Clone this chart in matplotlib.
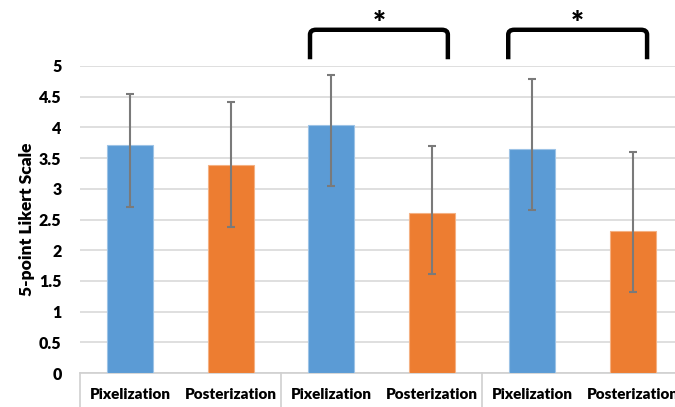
import matplotlib
matplotlib.use("Agg")
import matplotlib.pyplot as plt
from matplotlib.path import Path
from matplotlib.patches import PathPatch
from matplotlib.lines import Line2D

plt.rcParams['font.family'] = ['Lato', 'DejaVu Sans']

categories = ["Pixelization", "Posterization", "Pixelization", "Posterization", "Pixelization", "Posterization"]
values = [3.71, 3.38, 4.04, 2.60, 3.65, 2.32]
err_upper = [0.83, 1.04, 0.81, 1.10, 1.14, 1.28]
err_lower = [1.00, 1.00, 0.99, 0.99, 1.00, 1.00]
colors = ["#5B9BD5", "#ED7D31", "#5B9BD5", "#ED7D31", "#5B9BD5", "#ED7D31"]
edge_colors = ["#9DC3E6", "#F4B183", "#9DC3E6", "#F4B183", "#9DC3E6", "#F4B183"]
yticks = [0, 0.5, 1, 1.5, 2, 2.5, 3, 3.5, 4, 4.5, 5]
ytick_labels = ["0", "0.5", "1", "1.5", "2", "2.5", "3", "3.5", "4", "4.5", "5"]
brackets = [(1.79, 3.16), (3.76, 5.14)]
bracket_y = (5.11, 5.59)
star_y = 5.68
group_separators = [-0.5, 1.5, 3.5]

W = 'heavy'

fig = plt.figure(figsize=(6.75, 4.07), dpi=100)
ax = fig.add_axes([79.6 / 675, 34 / 407, 603.7 / 675, 307 / 407])

x = list(range(len(categories)))
ax.bar(x, values, width=0.457, color=colors, edgecolor=edge_colors, linewidth=0.8, zorder=3)
ax.errorbar(x, values, yerr=[err_lower, err_upper], fmt='none', ecolor='#7A7A7A',
            elinewidth=1.5, capsize=3.2, capthick=1.5, zorder=4)

ax.set_xlim(-0.5, len(categories) - 0.5)
ax.set_ylim(0, 5)
ax.set_yticks(yticks)
ax.set_yticklabels(ytick_labels, fontsize=11.5, fontweight=W)
ax.set_xticks(x)
ax.set_xticklabels(categories, fontsize=11, fontweight=W)
ax.tick_params(axis='y', length=0, pad=13)
ax.tick_params(axis='x', length=0, pad=11)
ax.yaxis.grid(True, color='#D9D9D9', linewidth=1.2, zorder=0)
ax.set_axisbelow(True)
for s in ['top', 'right', 'left']:
    ax.spines[s].set_visible(False)
ax.spines['bottom'].set_color('#D0D0D0')
ax.spines['bottom'].set_linewidth(1.2)

ax.set_ylabel("5-point Likert Scale", fontsize=12.5, fontweight=W, labelpad=3)

# group separators below axis
for gx in group_separators:
    ax.add_line(Line2D([gx, gx], [0, -0.6], color='#D0D0D0', linewidth=1.2, clip_on=False))

# significance brackets
yb, yt = bracket_y
rx, ry = 0.06, 0.08
for (x0, x1) in brackets:
    verts = [(x0, yb), (x0, yt - ry), (x0, yt), (x0 + rx, yt),
             (x1 - rx, yt), (x1, yt), (x1, yt - ry), (x1, yb)]
    codes = [Path.MOVETO, Path.LINETO, Path.CURVE3, Path.CURVE3,
             Path.LINETO, Path.CURVE3, Path.CURVE3, Path.LINETO]
    patch = PathPatch(Path(verts, codes), facecolor='none', edgecolor='black',
                      linewidth=3.2, clip_on=False, capstyle='butt')
    ax.add_patch(patch)
    ax.text((x0 + x1) / 2, star_y, "*", ha='center', va='center', fontsize=22,
            fontweight=W, clip_on=False)

fig.savefig("out.png", dpi=100)
